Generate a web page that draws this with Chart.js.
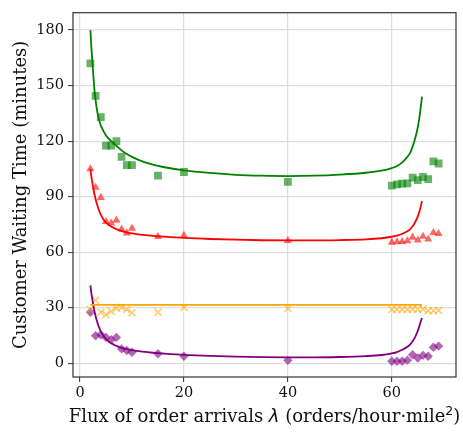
<!DOCTYPE html>
<html>
<head>
<meta charset="utf-8">
<script src="https://cdn.jsdelivr.net/npm/chart.js@4.4.0/dist/chart.umd.min.js"></script>
<style>
  html, body { margin: 0; padding: 0; background: #fff; }
  canvas { display: block; }
</style>
</head>
<body>
<canvas id="c" width="463" height="432" style="width:463px;height:432px"></canvas>
<script>
// Axis ticks
const xTicks = [0, 20, 40, 60];
const yTicks = [0, 30, 60, 90, 120, 150, 180];

// Observed waiting times at each arrival flux (orders/hour·mile²)
const lambdaObs = [2, 3, 4, 5, 6, 7, 8, 9, 10, 15, 20, 40, 60, 61, 62, 63, 64, 65, 66, 67, 68, 69];
const greenObs  = [162, 144.5, 133, 117.5, 117.5, 120, 111.5, 107, 107, 101.3, 103.3, 98, 95.9, 96.6, 97, 97.1, 100.3, 98.9, 100.6, 99.5, 109.1, 107.9];
const redObs    = [105, 95, 89.5, 76.5, 75.6, 77.2, 72.4, 70.3, 72.8, 68.3, 69, 66.2, 65.3, 65.5, 65.6, 66, 68, 66.5, 68.5, 67, 70.5, 70];
const orangeObs = [29, 34, 27.5, 26.2, 28, 29.7, 30.1, 29, 27.2, 27.5, 30.1, 29.7, 29, 29, 29, 29, 29.2, 29, 29.2, 28.3, 28.3, 28.5];
const purpleObs = [27.5, 14.8, 15.3, 13.9, 12.6, 13.9, 7.7, 6.8, 5.9, 5.1, 3.7, 1.5, 1.0, 1.0, 1.0, 1.6, 4.5, 2.8, 4.2, 3.7, 8.6, 9.2];

// Model curves
const lambdaFit = [2, 2.2, 2.5, 2.8, 3.2, 3.6, 4, 4.5, 5, 6, 7, 8, 9, 10, 12, 14, 16, 20, 25, 30, 35, 40, 45, 50, 55, 58, 60, 61, 62, 63, 63.5, 64, 64.5, 65, 65.3, 65.6, 65.8];
const greenFit  = [180, 170, 158, 147, 138, 132, 128.5, 125.5, 123, 120, 117.5, 115, 113, 111.5, 109, 107.3, 106, 104.2, 102.8, 101.8, 101.3, 101.1, 101.3, 101.9, 102.9, 104, 105.4, 106.5, 108.5, 111.5, 113.5, 117, 121.5, 127.5, 132.5, 139, 144];
const redFit    = [105, 100.5, 95.5, 91, 86.5, 83, 80.3, 77.8, 76, 73.8, 72.4, 71.4, 70.7, 70.1, 69.3, 68.8, 68.4, 67.7, 67.1, 66.7, 66.4, 66.3, 66.3, 66.5, 66.9, 67.5, 68.3, 68.9, 69.9, 71.3, 72.3, 74, 76.3, 79.3, 81.8, 85, 87.6];
const purpleFit = [42, 37.5, 32.3, 27.8, 23.3, 19.8, 17.2, 14.8, 13, 10.7, 9.3, 8.3, 7.6, 7, 6.2, 5.6, 5.2, 4.5, 3.9, 3.5, 3.2, 3.1, 3.1, 3.3, 3.8, 4.4, 5.3, 6, 7.2, 8.8, 10, 11.8, 14.2, 17.5, 20, 22.8, 24.4];
const lambdaFlat = [2, 65.8];
const orangeFit  = [31.5, 31.5];

const pts = (xs, ys) => xs.map((x, i) => ({ x: x, y: ys[i] }));

const SERIF = "'DejaVu Serif', serif";
Chart.defaults.font.family = SERIF;
Chart.defaults.color = '#111';

function curve(xs, ys, color) {
  return {
    data: pts(xs, ys), showLine: true, borderColor: color, borderWidth: 1.8,
    pointRadius: 0, cubicInterpolationMode: 'monotone', fill: false, order: 0
  };
}
function marks(ys, style, fillColor, radius, lineW) {
  return {
    data: pts(lambdaObs, ys), showLine: false, pointStyle: style, pointRadius: radius,
    backgroundColor: fillColor, borderColor: fillColor,
    pointBorderWidth: lineW || 0, order: 1
  };
}

// Frame around the plot area plus the two axis titles
const decor = {
  id: 'decor',
  afterDraw(chart) {
    const { ctx, chartArea: a } = chart;
    ctx.save();
    ctx.strokeStyle = '#333';
    ctx.lineWidth = 1.2;
    ctx.strokeRect(a.left, a.top, a.right - a.left, a.bottom - a.top);

    ctx.fillStyle = '#111';
    ctx.textBaseline = 'alphabetic';
    // y title
    ctx.save();
    ctx.translate(26, (a.top + a.bottom) / 2);
    ctx.rotate(-Math.PI / 2);
    ctx.font = '18px ' + SERIF;
    ctx.textAlign = 'center';
    ctx.fillText('Customer Waiting Time (minutes)', 0, 0);
    ctx.restore();

    // x title with italic λ and superscript 2
    const parts = [
      { t: 'Flux of order arrivals ', f: '18px ' + SERIF, dy: 0 },
      { t: 'λ', f: 'italic 18px "DejaVu Sans"', dy: 0 },
      { t: ' (orders/hour·mile', f: '18px ' + SERIF, dy: 0 },
      { t: '2', f: '12.5px "DejaVu Sans"', dy: -7 },
      { t: ')', f: '18px ' + SERIF, dy: 0 }
    ];
    let total = 0;
    parts.forEach(p => { ctx.font = p.f; p.w = ctx.measureText(p.t).width; total += p.w; });
    let x = (a.left + a.right) / 2 - total / 2;
    ctx.textAlign = 'left';
    parts.forEach(p => { ctx.font = p.f; ctx.fillText(p.t, x, 422 + p.dy); x += p.w; });
    ctx.restore();
  }
};

const gridStyle = { color: '#dedede', lineWidth: 1.2, drawTicks: true, tickLength: 5, tickColor: '#333', tickWidth: 1 };

new Chart(document.getElementById('c'), {
  type: 'scatter',
  data: {
    datasets: [
      curve(lambdaFit, greenFit, '#008000'),
      curve(lambdaFit, redFit, '#ff0000'),
      curve(lambdaFlat, orangeFit, '#ffa500'),
      curve(lambdaFit, purpleFit, '#800080'),
      marks(greenObs, 'rect', 'rgba(0,128,0,0.6)', 5.5),
      marks(redObs, 'triangle', 'rgba(255,0,0,0.6)', 4.7),
      marks(orangeObs, 'crossRot', 'rgba(255,165,0,0.6)', 5, 1.5),
      marks(purpleObs, 'rectRot', 'rgba(128,0,128,0.6)', 4.7)
    ]
  },
  options: {
    responsive: false,
    animation: false,
    events: [],
    layout: { padding: { top: 5, right: 7, left: 0, bottom: 0 } },
    plugins: { legend: { display: false }, tooltip: { enabled: false } },
    scales: {
      x: {
        type: 'linear', min: -1.35, max: 72.35,
        afterBuildTicks: s => { s.ticks = xTicks.map(v => ({ value: v })); },
        afterFit: s => { s.height = 55; },
        grid: gridStyle,
        border: { display: false },
        ticks: { font: { size: 14.5 }, color: '#111', padding: 3, maxRotation: 0 }
      },
      y: {
        type: 'linear', min: -7.5, max: 189.4,
        afterBuildTicks: s => { s.ticks = yTicks.map(v => ({ value: v })); },
        afterFit: s => { s.width = 73; },
        grid: gridStyle,
        border: { display: false },
        ticks: { font: { size: 14.5 }, color: '#111', padding: 4 }
      }
    }
  },
  plugins: [decor]
});
</script>
</body>
</html>
